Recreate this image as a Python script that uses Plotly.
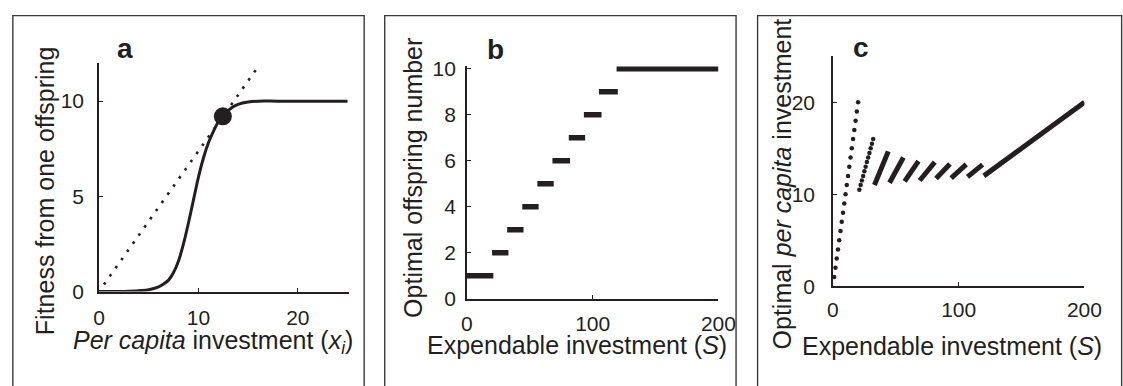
import plotly.graph_objects as go

W, H = 1123, 386
INK = "#231f20"
FONT = "Liberation Sans, Arial, sans-serif"

# ---------------- Panel a data ----------------
a_curve_x = [0, 3, 5, 6, 6.5, 7, 7.5, 8, 8.5, 9, 9.5, 10, 10.5, 11, 11.5, 12, 12.5, 13, 13.5, 14, 15, 16, 18, 25]
a_curve_y = [0, 0.02, 0.1, 0.25, 0.4, 0.6, 1.0, 1.6, 2.5, 3.6, 4.8, 6.0, 7.0, 7.8, 8.4, 8.9, 9.25, 9.5, 9.7, 9.83, 9.95, 10, 10, 10]
a_tangent_x = [0.5, 16]
a_tangent_y = [0.37, 11.8]
a_opt_x = [12.46]
a_opt_y = [9.2]
a_xticks = [0, 10, 20]
a_yticks = [0, 5, 10]

# ---------------- Panel b data ----------------
b_n = [1, 2, 3, 4, 5, 6, 7, 8, 9, 10]
b_start = [0, 20, 32, 44, 56, 68, 81, 93, 105, 119]
b_end = [21, 33, 45, 57, 69, 82, 94, 107, 120, 200]
b_xticks = [0, 100, 200]
b_yticks = [0, 2, 4, 6, 8, 10]

# ---------------- Panel c data ----------------
c_n1_S = [1, 2, 3, 4, 5, 6, 7, 8, 9, 10, 11, 12, 13, 14, 15, 16, 17, 18, 19, 20]
c_n1_x = [1, 2, 3, 4, 5, 6, 7, 8, 9, 10, 11, 12, 13, 14, 15, 16, 17, 18, 19, 20]
c_n2_S = [21, 22, 23, 24, 25, 26, 27, 28, 29, 30, 31, 32]
c_n2_x = [10.5, 11, 11.5, 12, 12.5, 13, 13.5, 14, 14.5, 15, 15.5, 16]
c_seg_S0 = [33, 45, 57, 69, 82, 94, 107, 120]
c_seg_S1 = [44, 56, 68, 81, 93, 106, 119, 200]
c_seg_x0 = [11.0, 11.25, 11.4, 11.5, 11.71, 11.75, 11.89, 12.0]
c_seg_x1 = [14.67, 14.0, 13.6, 13.5, 13.29, 13.25, 13.22, 20.0]
c_xticks = [0, 100, 200]
c_yticks = [0, 10, 20]


def px_x(p):
    return p / W


def px_y(p):
    return (H - p) / H


def segs(x0, x1, y0, y1):
    xs, ys = [], []
    for a, b, c, d in zip(x0, x1, y0, y1):
        xs += [a, b, None]
        ys += [c, d, None]
    return xs, ys


fig = go.Figure()

# Panel a
fig.add_trace(go.Scatter(x=a_tangent_x, y=a_tangent_y, mode="lines",
                         line=dict(color=INK, width=2.6, dash="2.6px,7.4px"),
                         xaxis="x", yaxis="y", hoverinfo="skip"))
fig.add_trace(go.Scatter(x=a_curve_x, y=a_curve_y, mode="lines",
                         line=dict(color=INK, width=3, shape="spline", smoothing=0.8),
                         xaxis="x", yaxis="y"))
fig.add_trace(go.Scatter(x=a_opt_x, y=a_opt_y, mode="markers",
                         marker=dict(color=INK, size=18),
                         xaxis="x", yaxis="y", cliponaxis=False))

# Panel b
bx, by = segs(b_start, b_end, b_n, b_n)
fig.add_trace(go.Scatter(x=bx, y=by, mode="lines",
                         line=dict(color=INK, width=5.5),
                         xaxis="x2", yaxis="y2"))

# Panel c
fig.add_trace(go.Scatter(x=c_n1_S, y=c_n1_x, mode="markers",
                         marker=dict(color=INK, size=4.5),
                         xaxis="x3", yaxis="y3", cliponaxis=False))
fig.add_trace(go.Scatter(x=c_n2_S, y=c_n2_x, mode="markers",
                         marker=dict(color=INK, size=4.5),
                         xaxis="x3", yaxis="y3", cliponaxis=False))
cx, cy = segs(c_seg_S0, c_seg_S1, c_seg_x0, c_seg_x1)
fig.add_trace(go.Scatter(x=cx, y=cy, mode="lines",
                         line=dict(color=INK, width=5),
                         xaxis="x3", yaxis="y3"))

axis_common = dict(showgrid=False, zeroline=False, showline=True, linecolor=INK,
                   linewidth=1.5, ticks="inside", ticklen=4, tickwidth=1.2, tickcolor=INK,
                   tickfont=dict(family=FONT, size=21, color=INK), fixedrange=True)

fig.update_layout(
    width=W, height=H, margin=dict(l=0, r=0, t=0, b=0),
    paper_bgcolor="white", plot_bgcolor="white", showlegend=False,
    xaxis=dict(domain=[px_x(95), px_x(351)], range=[0, 25.2], tickvals=a_xticks,
               anchor="y", ticklabelstandoff=6, **axis_common),
    yaxis=dict(domain=[px_y(298), px_y(57)], range=[0, 12], tickvals=a_yticks,
               anchor="x", ticklabelstandoff=9, **axis_common),
    xaxis2=dict(domain=[px_x(471), px_x(728)], range=[0, 200], tickvals=b_xticks,
                anchor="y2", ticklabelstandoff=5, **axis_common),
    yaxis2=dict(domain=[px_y(305.5), px_y(60.6)], range=[0, 10.1], tickvals=b_yticks,
                anchor="x2", ticklabelstandoff=5, **axis_common),
    xaxis3=dict(domain=[px_x(845), px_x(1102)], range=[0, 200], tickvals=c_xticks,
                anchor="y3", ticklabelstandoff=4, **axis_common),
    yaxis3=dict(domain=[px_y(292.3), px_y(50)], range=[0, 25], tickvals=c_yticks,
                anchor="x3", ticklabelstandoff=12, **axis_common),
)

# panel frames
frame = dict(type="rect", xref="paper", yref="paper", line=dict(color="#3a3a3a", width=1.4),
             fillcolor="rgba(0,0,0,0)", layer="below")
fig.add_shape(x0=px_x(7), x1=px_x(366), y0=px_y(400), y1=px_y(7), **frame)
fig.add_shape(x0=px_x(387), x1=px_x(746), y0=px_y(400), y1=px_y(7), **frame)
fig.add_shape(x0=px_x(768), x1=px_x(1140), y0=px_y(400), y1=px_y(7), **frame)


def ann(text, x, y, size=25, angle=0, bold=False):
    fig.add_annotation(text=f"<b>{text}</b>" if bold else text, x=px_x(x), y=px_y(y),
                       xref="paper", yref="paper", showarrow=False, textangle=angle,
                       xanchor="center", yanchor="middle",
                       font=dict(family=FONT, size=size, color=INK))

# panel letters
ann("a", 122, 42, size=28, bold=True)
ann("b", 500, 43, size=28, bold=True)
ann("c", 874, 41, size=28, bold=True)

# axis titles
ann("<i>Per capita</i> investment (<i>x<sub>i</sub></i>)", 212, 351)
ann("Expendable investment (<i>S</i>)", 583, 354)
ann("Expendable investment (<i>S</i>)", 967, 355)
ann("Fitness from one offspring", 40, 192, angle=-90)
ann("Optimal offspring number", 416, 178, angle=-90)
ann("Optimal <i>per capita</i> investment", 793, 185, angle=-90)

fig.write_html("out.html",
               config={"displayModeBar": False},
               post_script="document.body.style.margin='0';document.body.style.overflow='hidden';")
